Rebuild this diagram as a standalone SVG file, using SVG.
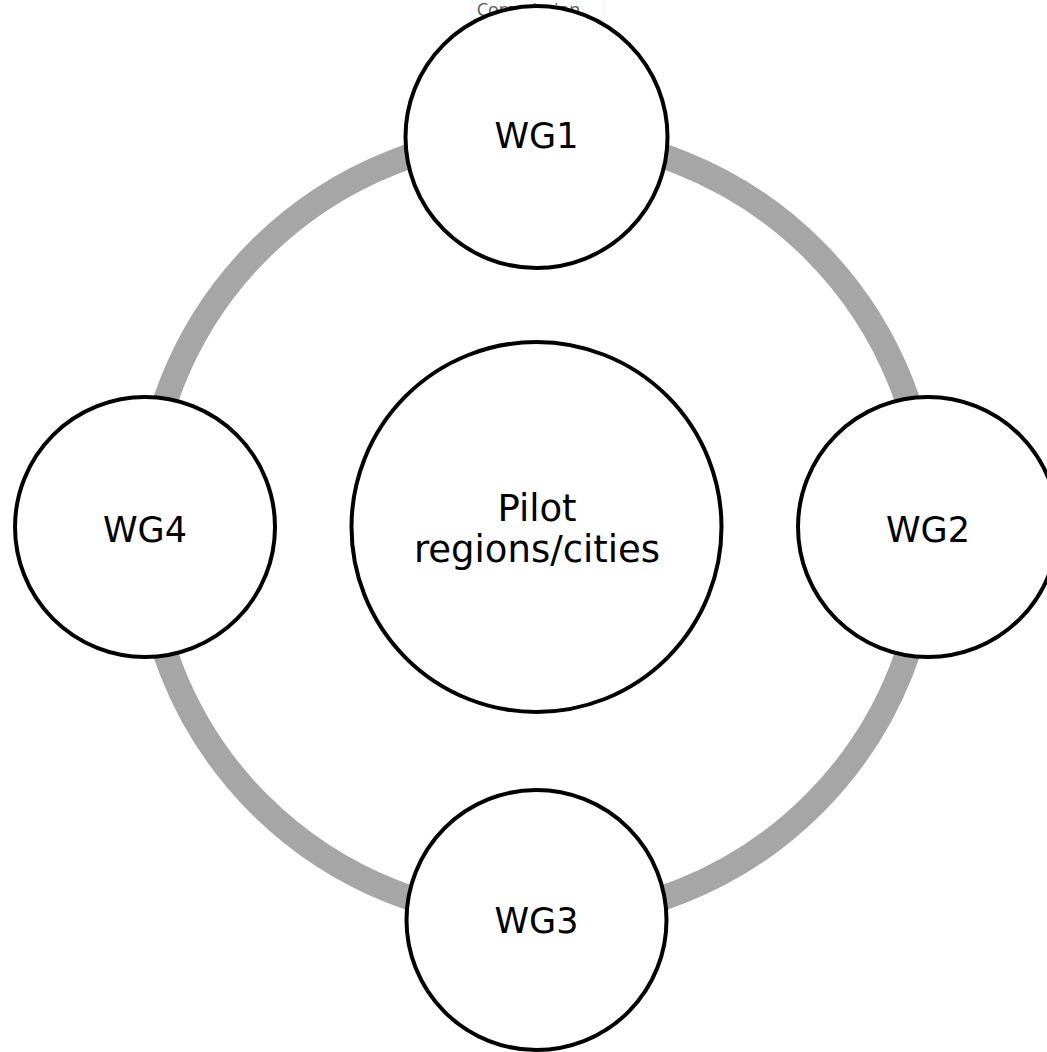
<svg xmlns="http://www.w3.org/2000/svg" width="1047" height="1052" viewBox="0 0 1047 1052">
<style>
.node{fill:#fff;stroke:#000;stroke-width:4}
.lbl{font-family:"DejaVu Sans",Verdana,sans-serif;font-size:35px;fill:#000;text-anchor:middle}
.big{font-size:37px}
.small{font-family:"Open Sans",sans-serif;font-size:18px;fill:#595959;text-anchor:middle}
</style>
<rect width="1047" height="1052" fill="#fff"/>
<g id="connectors">
<circle cx="536.5" cy="527" r="392" fill="none" stroke="#a6a6a6" stroke-width="25"/>
</g>
<g id="commission">
<rect x="472" y="-2" width="132" height="24" fill="none" stroke="#f2f2f2" stroke-width="1"/>
<text class="small" x="528.5" y="16">Commission</text>
</g>
<g id="center">
<circle class="node" cx="536.5" cy="527" r="185"/>
<text class="lbl big" x="537" y="521">Pilot</text>
<text class="lbl big" x="537" y="562">regions/cities</text>
</g>
<g id="wg1">
<circle class="node" cx="536.5" cy="137" r="131"/>
<text class="lbl" x="536.5" y="148">WG1</text>
</g>
<g id="wg2">
<circle class="node" cx="928" cy="527" r="130"/>
<text class="lbl" x="928" y="542">WG2</text>
</g>
<g id="wg3">
<circle class="node" cx="536.5" cy="920" r="130"/>
<text class="lbl" x="536.5" y="933">WG3</text>
</g>
<g id="wg4">
<circle class="node" cx="145" cy="527" r="130"/>
<text class="lbl" x="145" y="542">WG4</text>
</g>
</svg>
